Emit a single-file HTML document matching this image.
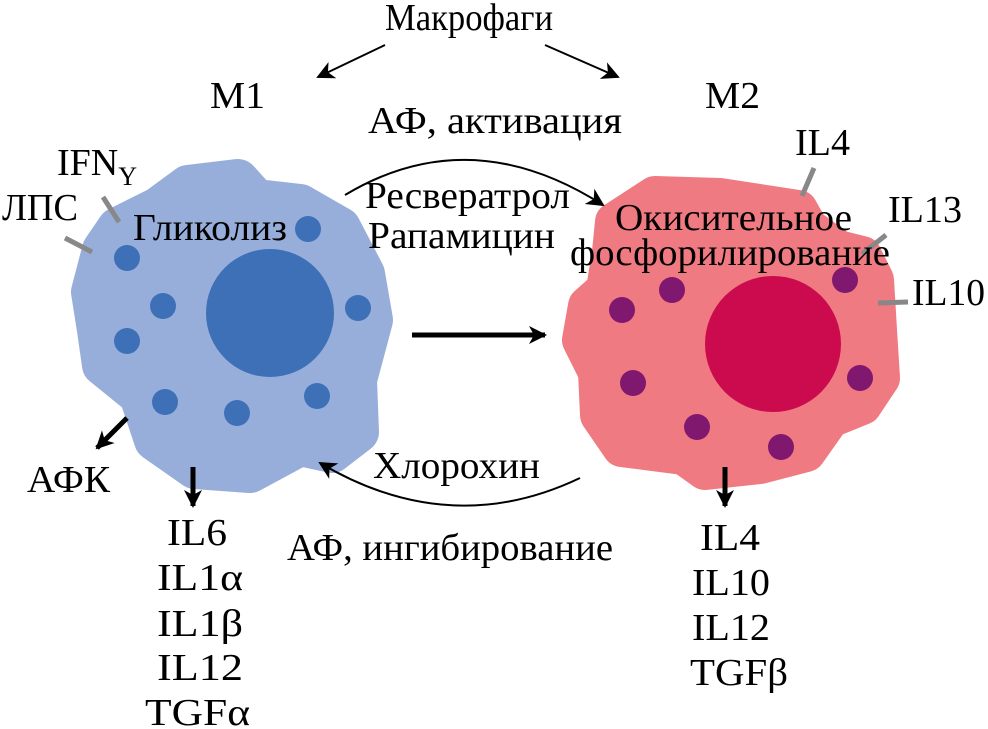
<!DOCTYPE html>
<html><head><meta charset="utf-8"><style>body{margin:0;background:#fff}svg{display:block}text{font-family:"Liberation Serif",serif;font-size:38px;fill:#000}</style></head><body>
<svg width="988" height="729" viewBox="0 0 988 729">
<defs><marker id="b" markerWidth="22" markerHeight="22" refX="16" refY="11" orient="auto" markerUnits="userSpaceOnUse"><path d="M0,2 L18,11 L0,20 L5,11 z"/></marker></defs>
<polygon points="118,228 158,208 188,186 238,180 256,200 300,205 340,228 364,274 372,320 356,380 358,432 332,452 300,445 250,472 195,468 155,440 140,395 103,365 98,330 92,292 103,250" fill="#97aedb" stroke="#97aedb" stroke-width="42" stroke-linejoin="round"/>
<circle cx="270" cy="313" r="64" fill="#3e70b8"/>
<g fill="#3e70b8"><circle cx="127" cy="258" r="13"/><circle cx="163" cy="306" r="13"/><circle cx="127" cy="341" r="13"/><circle cx="165" cy="402" r="13"/><circle cx="237" cy="413" r="13"/><circle cx="317" cy="396" r="13"/><circle cx="358" cy="308" r="13"/><circle cx="308" cy="229" r="13"/></g>
<polygon points="615,222 655,196 720,198 798,210 808,228 838,250 862,256 874,280 877,330 880,378 862,405 830,418 806,452 760,464 705,470 684,455 622,447 600,415 598,372 582,340 588,306 606,290 612,252" fill="#f07a82" stroke="#f07a82" stroke-width="40" stroke-linejoin="round"/>
<circle cx="773" cy="344" r="68" fill="#cc0a4e"/>
<g fill="#80186f"><circle cx="672" cy="290" r="13"/><circle cx="622" cy="310" r="13"/><circle cx="633" cy="383" r="13"/><circle cx="697" cy="427" r="13"/><circle cx="781" cy="447" r="13"/><circle cx="845" cy="280" r="13"/><circle cx="860" cy="378" r="13"/></g>
<g stroke="#888" stroke-width="5"><line x1="103" y1="197" x2="119" y2="222"/><line x1="65" y1="238" x2="92" y2="252"/><line x1="814" y1="168" x2="802" y2="196"/><line x1="886" y1="235" x2="862" y2="254"/><line x1="878" y1="303" x2="908" y2="302"/></g>
<g stroke="#000" stroke-width="2" fill="none"><line x1="385" y1="45" x2="318" y2="77" marker-end="url(#b)"/><line x1="545" y1="45" x2="618" y2="77" marker-end="url(#b)"/>
<path d="M345,195 Q470,120 603,205" marker-end="url(#b)"/>
<path d="M580,478 Q450,540 320,463" marker-end="url(#b)"/></g>
<g stroke="#000" stroke-width="5" fill="none"><line x1="412" y1="335" x2="545" y2="335" marker-end="url(#b)"/><line x1="127" y1="418" x2="97" y2="448" marker-end="url(#b)"/><line x1="193" y1="467" x2="193" y2="506" marker-end="url(#b)"/><line x1="725" y1="467" x2="725" y2="506" marker-end="url(#b)"/></g>
<g lengthAdjust="spacingAndGlyphs">
<text x="385" y="30" textLength="168" lengthAdjust="spacingAndGlyphs">Макрофаги</text>
<text x="210" y="108" textLength="55" lengthAdjust="spacingAndGlyphs">M1</text>
<text x="705" y="108" textLength="55" lengthAdjust="spacingAndGlyphs">M2</text>
<text x="368" y="133" textLength="254" lengthAdjust="spacingAndGlyphs">АФ, активация</text>
<text x="365" y="208" textLength="205" lengthAdjust="spacingAndGlyphs">Ресвератрол</text>
<text x="368" y="248" textLength="187" lengthAdjust="spacingAndGlyphs">Рапамицин</text>
<text x="133" y="240" textLength="154" lengthAdjust="spacingAndGlyphs">Гликолиз</text>
<text x="615" y="230" textLength="237" lengthAdjust="spacingAndGlyphs">Окисительное</text>
<text x="570" y="265" textLength="320" lengthAdjust="spacingAndGlyphs">фосфорилирование</text>
<text x="373" y="478" textLength="167" lengthAdjust="spacingAndGlyphs">Хлорохин</text>
<text x="287" y="560" textLength="326" lengthAdjust="spacingAndGlyphs">АФ, ингибирование</text>
<text x="27" y="492" textLength="83" lengthAdjust="spacingAndGlyphs">АФК</text>
<text x="57" y="175">IFN<tspan font-size="26" dy="10">Y</tspan></text>
<text x="2" y="220" textLength="76" lengthAdjust="spacingAndGlyphs">ЛПС</text>
<text x="795" y="155" textLength="55" lengthAdjust="spacingAndGlyphs">IL4</text>
<text x="888" y="222" textLength="74" lengthAdjust="spacingAndGlyphs">IL13</text>
<text x="912" y="305" textLength="73" lengthAdjust="spacingAndGlyphs">IL10</text>
<text x="167" y="545" textLength="60" lengthAdjust="spacingAndGlyphs">IL6</text>
<text x="157" y="590" textLength="86" lengthAdjust="spacingAndGlyphs">IL1α</text>
<text x="157" y="636" textLength="86" lengthAdjust="spacingAndGlyphs">IL1β</text>
<text x="157" y="680" textLength="86" lengthAdjust="spacingAndGlyphs">IL12</text>
<text x="145" y="725" textLength="105" lengthAdjust="spacingAndGlyphs">TGFα</text>
<text x="700" y="550" textLength="60" lengthAdjust="spacingAndGlyphs">IL4</text>
<text x="692" y="595" textLength="78" lengthAdjust="spacingAndGlyphs">IL10</text>
<text x="692" y="640" textLength="78" lengthAdjust="spacingAndGlyphs">IL12</text>
<text x="690" y="685" textLength="98" lengthAdjust="spacingAndGlyphs">TGFβ</text>
</g>
</svg>
</body></html>
